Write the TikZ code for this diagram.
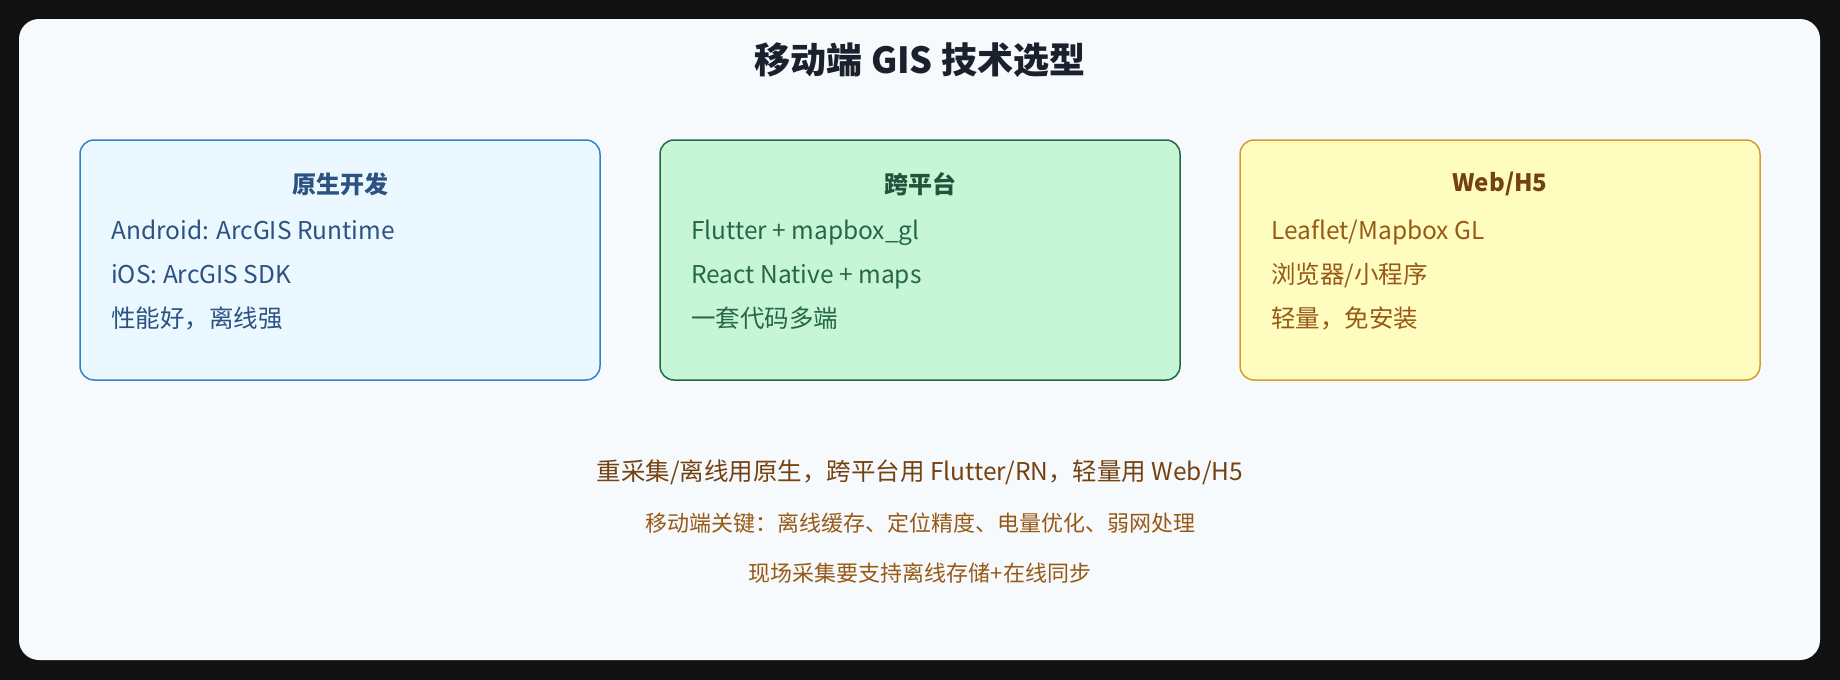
\documentclass[tikz,border=0pt]{standalone}
\usepackage{fontspec}
\setmainfont{Noto Sans CJK SC}
\usepackage{xcolor}
\usetikzlibrary{positioning}

\definecolor{pagebg}{HTML}{111111}
\definecolor{panelbg}{HTML}{F7FAFC}
\definecolor{titlecol}{HTML}{1A202C}
\definecolor{nativeline}{HTML}{3182CE}
\definecolor{nativefill}{HTML}{EBF8FF}
\definecolor{nativetext}{HTML}{2C5282}
\definecolor{crossline}{HTML}{276749}
\definecolor{crossfill}{HTML}{C6F6D5}
\definecolor{crosshead}{HTML}{22543D}
\definecolor{crosstext}{HTML}{276749}
\definecolor{webline}{HTML}{D69E2E}
\definecolor{webfill}{HTML}{FEFCBF}
\definecolor{webhead}{HTML}{744210}
\definecolor{webtext}{HTML}{975A16}

\begin{document}
\begin{tikzpicture}[x=1pt,y=-1pt,node distance=20pt,
  card/.style={rectangle,rounded corners=14pt,line width=1.5pt,outer sep=0pt,
    minimum width=520pt,minimum height=240pt,anchor=north west},
  card head/.style={font=\fontsize{24}{28}\selectfont\bfseries},
  card item/.style={font=\fontsize{24.5}{28}\selectfont,inner sep=0pt,
    text height=19pt,text depth=5pt,anchor=west},
  note/.style={font=\fontsize{22}{26}\selectfont,color=webtext,inner sep=0pt}]

  \fill[pagebg] (0,0) rectangle (1840,680);
  \useasboundingbox (0,0) rectangle (1840,680);
  \fill[panelbg,rounded corners=20pt] (19,19) rectangle (1820,660);

  \node[font=\fontsize{36}{42}\selectfont\bfseries,color=titlecol] (title) at (920,60) {移动端 GIS 技术选型};

  % three cards
  \node[card,draw=nativeline,fill=nativefill] (native) at (80,140) {};
  \node[card,draw=crossline,fill=crossfill] (cross) [right=60pt of native.north east,anchor=north west] {};
  \node[card,draw=webline,fill=webfill] (web) [right=60pt of cross.north east,anchor=north west] {};

  \node[card head,color=nativetext] (nativeh) at ([yshift=-44pt]native.north) {原生开发};
  \node[card head,color=crosshead] (crossh) at ([yshift=-44pt]cross.north) {跨平台};
  \node[card head,color=webhead] (webh) at ([yshift=-44pt]web.north) {Web/H5};

  \node[card item,color=nativetext] (native1) at ([xshift=31pt,yshift=-92pt]native.north west) {Android: ArcGIS Runtime};
  \node[card item,color=nativetext] (native2) [below=of native1.south west,anchor=north west] {iOS: ArcGIS SDK};
  \node[card item,color=nativetext] (native3) [below=of native2.south west,anchor=north west] {性能好，离线强};

  \node[card item,color=crosstext] (cross1) at ([xshift=31pt,yshift=-92pt]cross.north west) {Flutter + mapbox\_gl};
  \node[card item,color=crosstext] (cross2) [below=of cross1.south west,anchor=north west] {React Native + maps};
  \node[card item,color=crosstext] (cross3) [below=of cross2.south west,anchor=north west] {一套代码多端};

  \node[card item,color=webtext] (web1) at ([xshift=31pt,yshift=-92pt]web.north west) {Leaflet/Mapbox GL};
  \node[card item,color=webtext] (web2) [below=of web1.south west,anchor=north west] {浏览器/小程序};
  \node[card item,color=webtext] (web3) [below=of web2.south west,anchor=north west] {轻量，免安装};

  % notes under the cards
  \node[note,font=\fontsize{24.5}{28}\selectfont,color=webhead] (advice) at (920,472) {重采集/离线用原生，跨平台用 Flutter/RN，轻量用 Web/H5};
  \node[note] (keys) at (920,523) {移动端关键：离线缓存、定位精度、电量优化、弱网处理};
  \node[note] (sync) at (920,573) {现场采集要支持离线存储+在线同步};
\end{tikzpicture}
\end{document}
